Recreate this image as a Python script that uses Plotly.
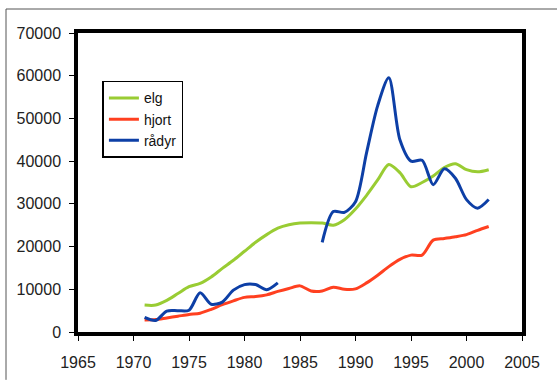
import plotly.graph_objects as go

years = list(range(1971, 2003))

elg = [6300, 6300, 7400, 9000, 10600, 11400, 12900, 14900, 16800, 18900,
       21000, 22800, 24300, 25100, 25500, 25600, 25500, 25000, 26300, 28800,
       32000, 35600, 39200, 37300, 34000, 35000, 36500, 38500, 39400, 38000,
       37500, 38000]

hjort = [2800, 2900, 3300, 3700, 4100, 4400, 5300, 6400, 7300, 8100,
         8300, 8700, 9500, 10200, 10800, 9600, 9600, 10500, 10000, 10100,
         11500, 13300, 15300, 17000, 18000, 18000, 21500, 21900, 22300, 22800,
         23800, 24700]

# no counts for 1984-1986
radyr = [3400, 2700, 4900, 5000, 5100, 9200, 6500, 7000, 9800, 11100,
         11100, 9900, 11500, None, None, None, 21000, 28200, 28000, 30500,
         42000, 53000, 59500, 45000, 40000, 40200, 34500, 38200, 36000, 31000,
         29000, 31000]

series = [("elg", elg, "#99cc33"), ("hjort", hjort, "#ff4020"), ("rådyr", radyr, "#0d3fa6")]

x_ticks = list(range(1965, 2006, 5))
y_ticks = list(range(0, 70001, 10000))

fig = go.Figure()
for name, vals, color in series:
    fig.add_trace(go.Scatter(
        x=years, y=vals, name=name, mode="lines",
        line=dict(color=color, width=3, shape="spline", smoothing=0.8),
        connectgaps=False,
    ))

tick_font = dict(family="Liberation Sans, Arial, sans-serif", size=16, color="#222")

# outer frame: only the left and top edges fall inside the page
frame_x = (6 - 78) / 444
frame_y = (332 - 9) / 299
frame_line = dict(color="#555", width=1)

fig.update_layout(
    width=557, height=380,
    margin=dict(l=78, r=35, t=33, b=48),
    paper_bgcolor="white", plot_bgcolor="white",
    font=tick_font,
    showlegend=True,
    legend=dict(
        x=0.055, y=0.84, xanchor="left", yanchor="top",
        bordercolor="black", borderwidth=1.5, bgcolor="white",
        font=dict(family="Liberation Sans, Arial, sans-serif", size=14, color="#111"),
        tracegroupgap=0, itemwidth=30,
    ),
    xaxis=dict(
        range=[1965, 2005], tickvals=x_ticks, ticktext=[str(v) for v in x_ticks],
        showgrid=False, zeroline=False, automargin=False,
        showline=True, linecolor="black", linewidth=3.5, mirror=True,
        ticks="outside", ticklen=5, tickwidth=1, tickcolor="black",
        ticklabelstandoff=8, tickfont=tick_font,
    ),
    yaxis=dict(
        range=[0, 70000], tickvals=y_ticks, ticktext=[str(v) for v in y_ticks],
        showgrid=False, zeroline=False, automargin=False,
        showline=True, linecolor="black", linewidth=3.5, mirror=True,
        ticks="outside", ticklen=5, tickwidth=1, tickcolor="black",
        ticklabelstandoff=5, tickfont=tick_font,
    ),
    shapes=[
        dict(type="line", xref="paper", yref="paper",
             x0=frame_x, x1=frame_x, y0=-0.16, y1=frame_y, line=frame_line, layer="below"),
        dict(type="line", xref="paper", yref="paper",
             x0=frame_x, x1=(557 - 78) / 444, y0=frame_y, y1=frame_y, line=frame_line, layer="below"),
    ],
)

fig.write_html("out.html")
